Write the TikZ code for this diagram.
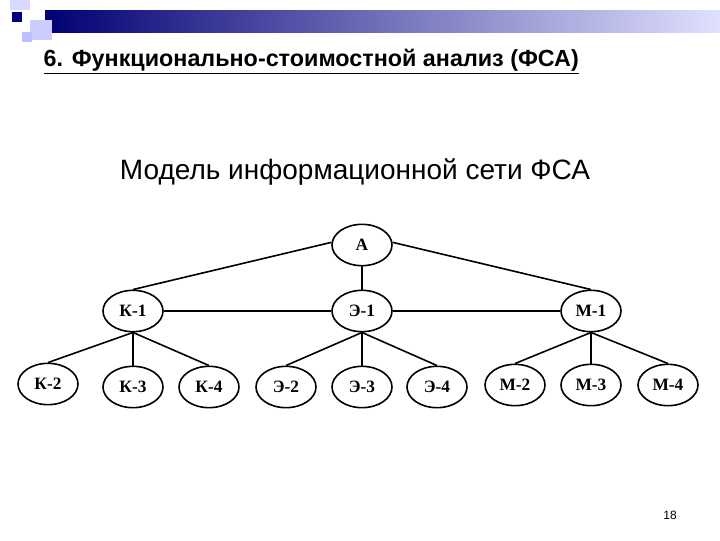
\documentclass[tikz,border=0pt]{standalone}
\usepackage{fontspec}
\setmainfont{Liberation Sans}
\newfontfamily\nodefont{Liberation Serif}
\usetikzlibrary{shapes.geometric}
\begin{document}
\begin{tikzpicture}[x=0.75pt,y=-0.75pt,
  el/.style={ellipse,draw,line width=1.2pt,minimum width=45pt,minimum height=31pt,inner sep=0pt,font=\nodefont\bfseries\fontsize{13}{13}\selectfont},
  ed/.style={line width=1.2pt}]
\useasboundingbox (0,0) rectangle (720,540);
\fill[white] (0,0) rectangle (720,540);
% header decoration
\shade[left color=blue!45!black, right color=blue!12!white] (45,10) rectangle (720,32);
\fill[blue!15!white] (10,0) rectangle (30,10);
\fill[blue!20!white] (30,20) rectangle (52,40);
\fill[blue!25!white] (22,32) rectangle (32,42);
\fill[blue!50!black] (12,12) rectangle (22,22);
\node[anchor=west,font=\bfseries\fontsize{17.5}{17.5}\selectfont] (title) at (39,62) {\underline{6. Функционально-стоимостной анализ (ФСА)}};
\node[font=\fontsize{21}{21}\selectfont] (sub) at (355,172) {Модель информационной сети ФСА};
\node[font=\fontsize{9}{9}\selectfont] (pg) at (670,515) {18};
% nodes
\node[el] (A) at (362,245) {А};
\node[el] (K1) at (133,311) {К-1};
\node[el] (E1) at (362,311) {Э-1};
\node[el] (M1) at (591,311) {М-1};
\node[el] (K2) at (48,384) {К-2};
\node[el] (K3) at (133,387) {К-3};
\node[el] (K4) at (209,387) {К-4};
\node[el] (E2) at (286,387) {Э-2};
\node[el] (E3) at (362,387) {Э-3};
\node[el] (E4) at (437,387) {Э-4};
\node[el] (M2) at (515,385) {М-2};
\node[el] (M3) at (591,385) {М-3};
\node[el] (M4) at (668,385) {М-4};
% edges
\draw[ed] (A.175) -- (K1.north);
\draw[ed] (A.5) -- (M1.north);
\draw[ed] (A) -- (E1);
\draw[ed] (K1) -- (E1);
\draw[ed] (E1) -- (M1);
\foreach \p/\c in {K1/K2,K1/K3,K1/K4,E1/E2,E1/E3,E1/E4,M1/M2,M1/M3,M1/M4}
  \draw[ed] (\p.south) -- (\c.north);
\end{tikzpicture}
\end{document}
